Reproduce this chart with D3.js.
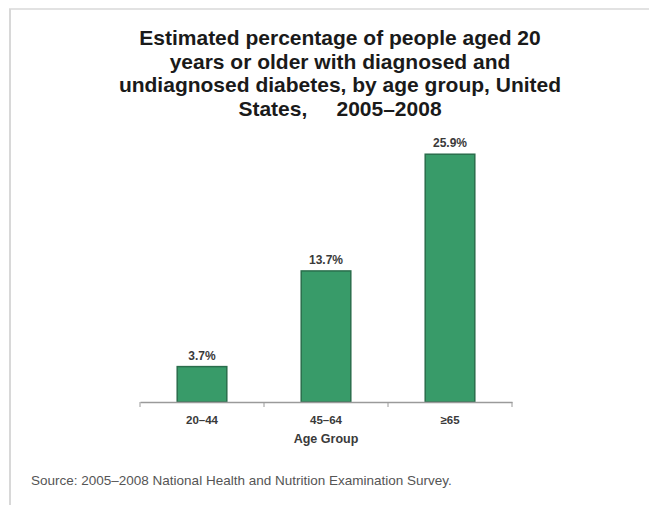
<!DOCTYPE html>
<html>
<head>
<meta charset="utf-8">
<script src="https://cdn.jsdelivr.net/npm/d3@7"></script>
<style>
  body { margin: 0; background: #fff; }
  svg { display: block; font-family: "Liberation Sans", Arial, sans-serif; }
</style>
</head>
<body>
<div class="container"></div>
<script>
// chart data
const ageGroups = ["20\u201344", "45\u201364", "\u226565"];
const percents = [3.7, 13.7, 25.9];
const titleLines = [
  "Estimated percentage of people aged 20",
  "years or older with diagnosed and",
  "undiagnosed diabetes, by age group, United",
  "States,     2005\u20132008"
];
const sourceText = "Source: 2005\u20132008 National Health and Nutrition Examination Survey.";

// build the SVG
const svgwidth = 649, svgheight = 505;
const svg = d3.select(".container")
  .append("svg")
  .attr("width", svgwidth)
  .attr("height", svgheight);

// light frame of the slide
svg.append("line").attr("x1", 9).attr("x2", svgwidth).attr("y1", 9).attr("y2", 9)
  .attr("stroke", "#e2e2e2").attr("stroke-width", 2);
svg.append("line").attr("x1", 10).attr("x2", 10).attr("y1", 9).attr("y2", svgheight)
  .attr("stroke", "#d8d8d8").attr("stroke-width", 2);

// title
svg.append("text")
  .attr("text-anchor", "middle")
  .attr("font-weight", "bold")
  .attr("font-size", "21px")
  .attr("fill", "#1a1a1a")
  .selectAll("tspan")
  .data(titleLines)
  .enter().append("tspan")
    .attr("x", 340)
    .attr("y", (d, i) => 45 + i * 23.5)
    .attr("xml:space", "preserve")
    .style("white-space", "pre")
    .text(d => d);

// scales
const x = d3.scaleBand().domain(ageGroups).range([140, 512]).paddingInner(0.6).paddingOuter(0.3);
const y = d3.scaleLinear().domain([0, 30]).range([402, 115]);

// bars
svg.selectAll(".bar")
  .data(percents)
  .enter().append("rect")
    .attr("class", "bar")
    .attr("x", (d, i) => x(ageGroups[i]))
    .attr("y", d => y(d))
    .attr("width", x.bandwidth())
    .attr("height", d => y(0) - y(d))
    .attr("fill", "#389b69")
    .attr("stroke", "#2a6e4c")
    .attr("stroke-width", 1.5);

// data labels
svg.selectAll(".lbl")
  .data(percents)
  .enter().append("text")
    .attr("class", "lbl")
    .attr("x", (d, i) => x(ageGroups[i]) + x.bandwidth() / 2)
    .attr("y", d => y(d) - 7)
    .attr("text-anchor", "middle")
    .attr("font-size", "12px")
    .attr("font-weight", "bold")
    .attr("fill", "#3a3a3a")
    .text(d => d.toFixed(1) + "%");

// axis
const axis = svg.append("g")
  .attr("transform", "translate(0," + y(0) + ")")
  .call(d3.axisBottom(x).tickSize(0).tickPadding(14));
axis.select(".domain").attr("stroke", "#9a9a9a").attr("stroke-width", 1.5);
axis.selectAll("text").attr("font-size", "11.5px").attr("font-weight", "bold").attr("fill", "#3a3a3a")
  .attr("font-family", "Liberation Sans, Arial, sans-serif");
// category separators
const seps = [0, 1, 2, 3].map(i => 140 + i * x.step());
axis.selectAll(".sep")
  .data(seps)
  .enter().append("line")
    .attr("class", "sep")
    .attr("x1", d => d).attr("x2", d => d)
    .attr("y1", 0).attr("y2", 5)
    .attr("stroke", "#9a9a9a");

svg.append("text")
  .attr("x", 326)
  .attr("y", 443)
  .attr("text-anchor", "middle")
  .attr("font-size", "12.5px")
  .attr("font-weight", "bold")
  .attr("fill", "#3a3a3a")
  .text("Age Group");

// source
svg.append("text")
  .attr("x", 31)
  .attr("y", 485)
  .attr("font-size", "13.5px")
  .attr("fill", "#555")
  .text(sourceText);
</script>
</body>
</html>
